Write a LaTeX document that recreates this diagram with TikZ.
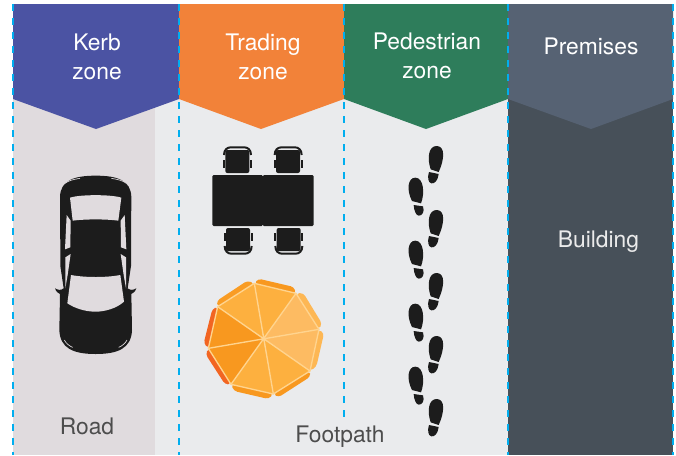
\documentclass[tikz,border=0pt]{standalone}
\usepackage{fontspec}
\setmainfont{TeX Gyre Heros}
\definecolor{kerb}{HTML}{4B53A3}
\definecolor{trade}{HTML}{F28239}
\definecolor{ped}{HTML}{2E7D5B}
\definecolor{prem}{HTML}{566273}
\definecolor{bldg}{HTML}{475059}
\definecolor{road}{HTML}{E0DBDE}
\definecolor{foot}{HTML}{EAEBED}
\definecolor{ink}{HTML}{1C1C1C}
\definecolor{cyanline}{HTML}{00AEEF}
\definecolor{txt}{HTML}{4D4D4D}
\definecolor{umA}{HTML}{FDB03F}
\definecolor{umB}{HTML}{FDBB62}
\definecolor{umC}{HTML}{F8981F}
\definecolor{umD}{HTML}{F26522}
\definecolor{umS}{HTML}{FFD48F}
\tikzset{
  zonetext/.style={text=white,font=\fontsize{17.1}{20}\selectfont,align=center,inner sep=0pt},
  areatext/.style={text=txt,font=\fontsize{17.1}{20}\selectfont,inner sep=0pt},
  divider/.style={draw=cyanline,line width=.85pt,dash pattern=on 5.5pt off 5pt},
  zoomed/.style={x=.25pt,y=-.25pt},
  spoke/.style={umS,line width=1pt},
  rim/.style={rounded corners=2.5pt},
}
\newcommand{\footR}{%
  \fill[ink] (107,88) .. controls (96,55) and (100,18) .. (125,18) .. controls (152,18) and (148,60) .. (131,96) -- cycle;
  \fill[ink] (102,96) -- (131,102) .. controls (129,122) and (118,132) .. (109,130) .. controls (99,128) and (97,112) .. (102,96) -- cycle;}
\newcommand{\footL}{%
  \fill[ink] (51,183) .. controls (34,150) and (38,113) .. (61,113) .. controls (86,113) and (90,160) .. (78,190) -- cycle;
  \fill[ink] (56,195) -- (84,199) .. controls (90,215) and (81,228) .. (71,227) .. controls (63,226) and (57,212) .. (56,195) -- cycle;}
\newcommand{\chairUp}{%
  \fill[ink,rounded corners=1.5pt] (106,45) -- (178,45) -- (178,114) -- (106,114) -- cycle;
  \draw[ink,line width=1.5pt] (102,60) .. controls (102,44) and (112,37) .. (122,37) -- (163,37) .. controls (173,37) and (183,44) .. (183,60);
  \fill[ink] (99,74) rectangle (105,100);
  \fill[ink] (180,74) rectangle (186,100);}
\begin{document}
\begin{tikzpicture}[x=.75pt,y=-.75pt]
\useasboundingbox (0,0) rectangle (676,455);
% ground
\fill[road] (13,99) rectangle (155,455);
\fill[foot] (155,99) rectangle (508,455);
\fill[bldg] (508,99) rectangle (673,455);
% headers
\fill[kerb] (13,4) -- (179,4) -- (179,99) -- (96,129) -- (13,99) -- cycle;
\fill[trade] (179,4) -- (344,4) -- (344,99) -- (261,129) -- (179,99) -- cycle;
\fill[ped] (344,4) -- (508,4) -- (508,99) -- (426,129) -- (344,99) -- cycle;
\fill[prem] (508,4) -- (673,4) -- (673,99) -- (591,129) -- (508,99) -- cycle;
% dividers
\coordinate (d1t) at (13,4); \coordinate (d1b) at (13,455);
\coordinate (d2t) at (179,4); \coordinate (d2b) at (179,455);
\coordinate (d3t) at (344,4); \coordinate (d3b) at (344,419);
\coordinate (d4t) at (508,4); \coordinate (d4b) at (508,455);
\coordinate (d5t) at (673,4); \coordinate (d5b) at (673,455);
\draw[divider] (d1t) -- (d1b);
\draw[divider] (d2t) -- (d2b);
\draw[divider] (d3t) -- (d3b);
\draw[divider] (d4t) -- (d4b);
\draw[divider] (d5t) -- (d5b);
% car
\begin{scope}[shift={(30,160)},zoomed]
\fill[ink] (197,47) .. controls (130,47) and (92,62) .. (90,110) -- (91,280) -- (91,318) -- (101,385) .. controls (92,392) and (84,390) .. (75,385) .. controls (78,395) and (85,400) .. (90,402) -- (88,510) .. controls (90,565) and (130,582) .. (197,582)
  .. controls (264,582) and (304,565) .. (306,510) -- (304,402) .. controls (309,400) and (316,395) .. (319,385) .. controls (310,390) and (302,392) .. (293,385) -- (303,318) -- (303,280) -- (304,110) .. controls (302,62) and (264,47) .. (197,47) -- cycle;
\fill[road] (120,113) .. controls (150,103) and (244,103) .. (274,113) -- (265,182) .. controls (230,177) and (164,177) .. (128,182) -- cycle;
\fill[road] (123,345) .. controls (165,353) and (229,353) .. (271,345) -- (282,425) .. controls (260,445) and (225,455) .. (197,455) .. controls (165,455) and (135,445) .. (112,430) -- cycle;
\fill[road] (110,165) -- (122,182) -- (121,262) -- (105,268) -- cycle;
\fill[road] (284,165) -- (272,182) -- (273,262) -- (289,268) -- cycle;
\fill[road] (122,282) -- (106,292) -- (106,385) -- (113,345) -- cycle;
\fill[road] (272,282) -- (288,292) -- (288,385) -- (281,345) -- cycle;
\draw[road,line width=.5pt] (105,70) .. controls (115,62) and (130,58) .. (150,55);
\draw[road,line width=.5pt] (289,70) .. controls (279,62) and (264,58) .. (244,55);
\draw[road,line width=.5pt] (103,540) .. controls (108,550) and (118,558) .. (128,562);
\draw[road,line width=.5pt] (291,540) .. controls (286,550) and (276,558) .. (266,562);
\end{scope}
% table and chairs
\begin{scope}[shift={(190,135)},zoomed]
\fill[ink,rounded corners=1pt] (67,120) rectangle (219,273);
\fill[ink,rounded corners=1pt] (218,120) rectangle (371,273);
\chairUp
\begin{scope}[shift={(152,0)}]\chairUp\end{scope}
\begin{scope}[shift={(2,393)},yscale=-1]\chairUp\end{scope}
\begin{scope}[shift={(154,393)},yscale=-1]\chairUp\end{scope}
\end{scope}
% umbrella
\begin{scope}[shift={(190,265)},zoomed]
\coordinate (u0) at (220,222);
\coordinate (u1) at (193,55);
\coordinate (u2) at (318,85);
\coordinate (u3) at (387,193);
\coordinate (u4) at (360,318);
\coordinate (u5) at (250,387);
\coordinate (u6) at (123,358);
\coordinate (u7) at (55,250);
\coordinate (u8) at (83,125);
\fill[umC!85!umA,rim] (u8) -- (80,108) -- (172,47) -- (u1) -- cycle;
\fill[umC,rim] (u1) -- (205,41) -- (312,66) -- (u2) -- cycle;
\fill[umB!60!umA,rim] (u2) -- (340,84) -- (396,176) -- (u3) -- cycle;
\fill[umB!60!umA,rim] (u3) -- (402,205) -- (379,305) -- (u4) -- cycle;
\fill[umC,rim] (u4) -- (361,335) -- (265,397) -- (u5) -- cycle;
\fill[umC,rim] (u5) -- (236,402) -- (132,378) -- (u6) -- cycle;
\fill[umD,rim] (u6) -- (105,358) -- (47,268) -- (u7) -- cycle;
\fill[umD,rim] (u7) -- (41,235) -- (67,132) -- (u8) -- cycle;
\fill[umA] (u0) -- (u8) -- (u1) -- cycle;
\fill[umA] (u0) -- (u1) -- (u2) -- cycle;
\fill[umB] (u0) -- (u2) -- (u3) -- cycle;
\fill[umB] (u0) -- (u3) -- (u4) -- cycle;
\fill[umA] (u0) -- (u4) -- (u5) -- cycle;
\fill[umA] (u0) -- (u5) -- (u6) -- cycle;
\fill[umC] (u0) -- (u6) -- (u7) -- cycle;
\fill[umC] (u0) -- (u7) -- (u8) -- cycle;
\draw[spoke,line join=round] (u1) -- (u2) -- (u3) -- (u4) -- (u5) -- (u6) -- (u7) -- (u8) -- (u1);
\draw[spoke] (u1) -- (u5) (u2) -- (u6) (u3) -- (u7) (u4) -- (u8);
\end{scope}
% footprints
\begin{scope}[shift={(395,140)},zoomed]
\footR \footL
\begin{scope}[shift={(0,192)}]\footR\end{scope}
\begin{scope}[shift={(0,189)}]\footL\end{scope}
\begin{scope}[shift={(0,381)}]\footR\end{scope}
\begin{scope}[shift={(0,378)}]\footL\end{scope}
\begin{scope}[shift={(0,570)}]\footR\end{scope}
\begin{scope}[shift={(0,567)}]\footL\end{scope}
\begin{scope}[shift={(0,759)}]\footR\end{scope}
\end{scope}
% labels
\node[zonetext] (kerb) at (97,57) {Kerb\\[1.5pt]zone};
\node[zonetext] (trading) at (263,57) {Trading\\[1.5pt]zone};
\node[zonetext] (pedestrian) at (427,56) {Pedestrian\\[1.5pt]zone};
\node[zonetext] (premises) at (591,46) {Premises};
\node[zonetext,text=white!92!black] (building) at (598.5,242) {Building};
\node[areatext] (roadlabel) at (87,426) {Road};
\node[areatext] (footpath) at (340,437) {Footpath};
\end{tikzpicture}
\end{document}
